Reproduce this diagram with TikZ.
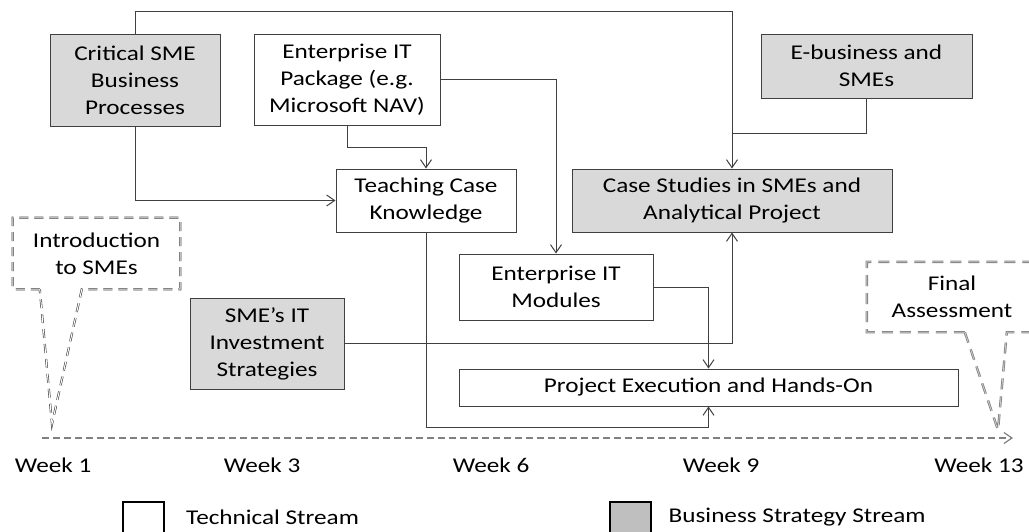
\documentclass[tikz,border=0pt]{standalone}
\usepackage{fontspec}
\setmainfont{Carlito}[FakeStretch=1.2]
\usepackage{tikz}
\usetikzlibrary{
    positioning,
    arrows.meta,
    calc
}
\definecolor{BoxGray}{RGB}{217,217,217}
\definecolor{LegendGray}{RGB}{191,191,191}
\definecolor{LineInk}{RGB}{64,64,64}
\definecolor{DashGray}{RGB}{128,128,128}
\newcommand{\diagfont}{\fontsize{21}{27}\selectfont}
\tikzset{
    techbox/.style={draw=LineInk, line width=1pt, fill=white, align=center, inner sep=0pt, font=\diagfont},
    bizbox/.style={techbox, fill=BoxGray},
    link/.style={-{Straight Barb[length=8pt,width=11pt]}, line width=1pt, draw=LineInk},
    joinline/.style={line width=1pt, draw=LineInk},
    timeline/.style={-{Straight Barb[length=8pt,width=11pt]}, line width=1.2pt, draw=DashGray, dash pattern=on 7pt off 4pt},
    weeklabel/.style={font=\diagfont, inner sep=0pt},
    calloutline/.style={draw=LineInk, double=white, double distance=1pt, line width=0.6pt, dash pattern=on 9pt off 6pt},
    calloutgray/.style={draw=DashGray, double=DashGray!40, double distance=0.8pt, line width=0.8pt, dash pattern=on 11pt off 7pt},
    calloutnote/.style={font=\diagfont, align=center, inner sep=0pt},
    legendbox/.style={draw=black, line width=2pt, minimum width=41pt, minimum height=38pt}
}

\begin{document}
\begin{tikzpicture}[x=1pt, y=-1pt]
    \useasboundingbox (0,0) rectangle (1029,531);
    \clip (0,0) rectangle (1029,531);
    % boxes
    \node[bizbox, minimum width=170, minimum height=92] (crit) at (135,80) {Critical SME\\Business\\Processes};
    \node[techbox, minimum width=186, minimum height=91] (pkg) at (347,79.5) {Enterprise IT\\Package (e.g.\\Microsoft NAV)};
    \node[bizbox, minimum width=211, minimum height=64] (ebiz) at (866.5,66) {E-business and\\SMEs};
    \node[techbox, minimum width=180, minimum height=63] (teach) at (426,200.5) {Teaching Case\\Knowledge};
    \node[bizbox, minimum width=320, minimum height=63] (case) at (732,200.5) {Case Studies in SMEs and\\Analytical Project};
    \node[techbox, minimum width=194, minimum height=66] (mod) at (556,287) {Enterprise IT\\Modules};
    \node[bizbox, minimum width=154, minimum height=91] (smeit) at (267,343.5) {SME’s IT\\Investment\\Strategies};
    \node[techbox, minimum width=499, minimum height=37] (proj) at (708.5,387.5) {Project Execution and Hands-On};
    % connectors
    \coordinate (joinE) at (732,133);
    \draw[link] (crit.north) -- ++(0,-22) -| (case.north);
    \draw[joinline] (ebiz.south) |- (joinE);
    \draw[link] (pkg.south) -- ++(0,22) -| (teach.north);
    \draw[link] (pkg.east) -| (mod.north);
    \draw[link] (crit.south) |- (teach.west);
    \draw[link] (teach.south) -- ++(0,195) -| (proj.south);
    \draw[link] (mod.east) -| (proj.north);
    \draw[link] (smeit.east) -| (case.south);
    % timeline
    \coordinate (tlstart) at (42,438);
    \coordinate (tlend) at (1013,438);
    \draw[timeline] (tlstart) -- (tlend);
    \foreach \wk/\xx in {1/53, 3/262, 6/491, 9/721, 13/979}
        \node[weeklabel] (week\wk) at (\xx,465) {Week \wk};
    % callouts
    \node[calloutnote, minimum width=167, minimum height=71] (intro) at (96.5,253.5) {Introduction\\to SMEs};
    \coordinate (introtip) at (52,424);
    \draw[calloutline] ([xshift=27]intro.south west) -- (intro.south west) -- (intro.north west) -- (intro.north east) -- (intro.south east) -- ([xshift=69]intro.south west) -- (introtip) -- cycle;
    \node[calloutnote, minimum width=170, minimum height=70] (final) at (952,297) {Final\\Assessment};
    \coordinate (finaltip) at (998,430);
    \draw[calloutgray] ([xshift=98]final.south west) -- (final.south west) -- (final.north west) -- (final.north east) -- (final.south east) -- ([xshift=140]final.south west) -- (finaltip) -- cycle;
    % legend
    \node[legendbox, fill=white] (legtech) at (143.5,521) {};
    \node[weeklabel, right=21pt of legtech, yshift=4pt] {Technical Stream};
    \node[legendbox, fill=LegendGray] (legbiz) at (630,521) {};
    \node[weeklabel, right=17pt of legbiz, yshift=4pt] {Business Strategy Stream};
\end{tikzpicture}
\end{document}
